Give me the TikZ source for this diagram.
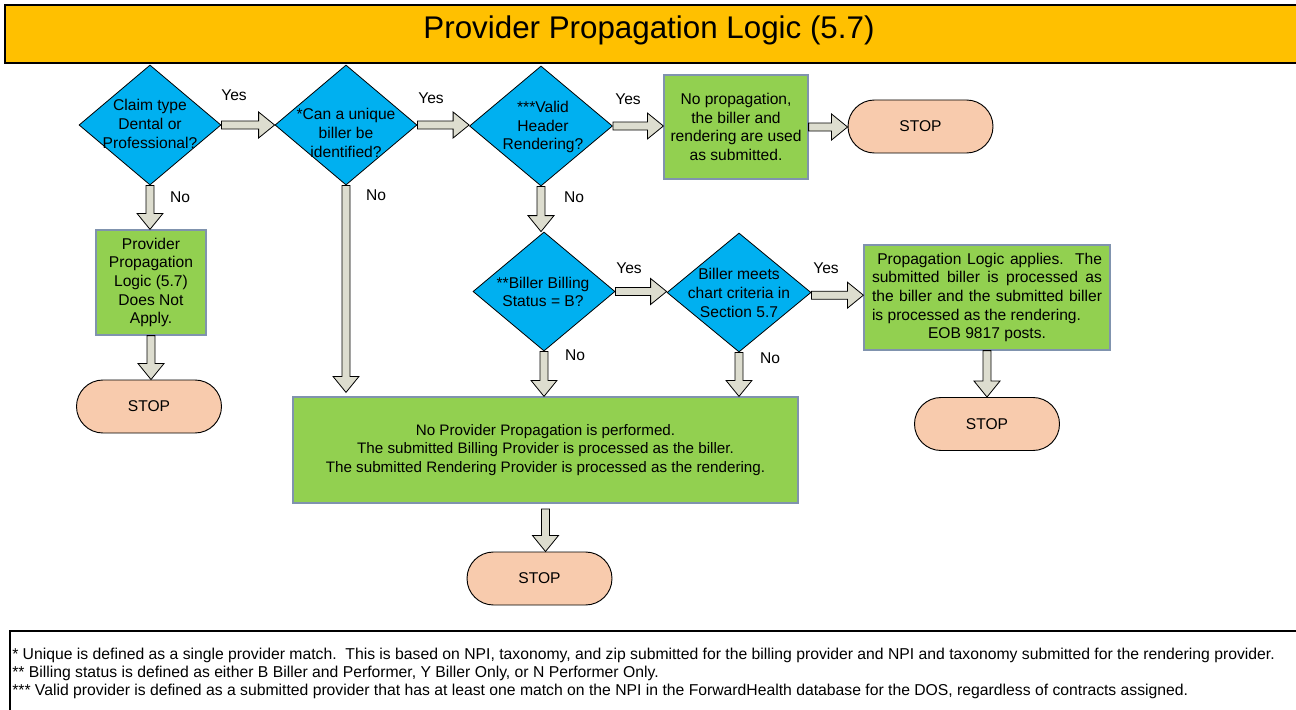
\documentclass[tikz,border=0pt]{standalone}
\usepackage{fontspec}
\setmainfont{Liberation Sans}
\usetikzlibrary{shapes.geometric,shapes.misc,calc}

\definecolor{titlegold}{HTML}{FFC000}
\definecolor{decblue}{HTML}{00B0F0}
\definecolor{procgreen}{HTML}{92D050}
\definecolor{procedge}{HTML}{8093AE}
\definecolor{stoppeach}{HTML}{F8CBAD}
\definecolor{arrowfill}{HTML}{DDDDCF}

\tikzset{
  body/.style={font=\fontsize{11.7}{14}\selectfont},
  decision/.style={shape=diamond, draw=black, line width=0.6pt, fill=decblue, inner sep=0pt},
  dtext/.style={body, align=center, inner sep=0pt},
  process/.style={draw=procedge, line width=0.9pt, fill=procgreen, body, align=center, inner sep=0pt},
  terminal/.style={rounded rectangle, draw=black, line width=0.7pt, fill=stoppeach, body,
    minimum width=108.75pt, minimum height=39.75pt, inner sep=0pt},
  answer/.style={body, inner sep=0pt},
  note/.style={font=\fontsize{11.8}{14}\selectfont, inner sep=0pt, anchor=west},
  % hollow block arrows, pointing right or down
  harrow/.style={draw=black, line width=0.6pt, fill=arrowfill,
    to path={let \p1=(\tikztostart), \p2=(\tikztotarget) in
      (\x1,\y1-3pt) -- (\x2-12pt,\y1-3pt) -- (\x2-12pt,\y1-9.75pt) -- (\x2,\y1)
      -- (\x2-12pt,\y1+9.75pt) -- (\x2-12pt,\y1+3pt) -- (\x1,\y1+3pt) -- cycle}},
  varrow/.style={draw=black, line width=0.6pt, fill=arrowfill,
    to path={let \p1=(\tikztostart), \p2=(\tikztotarget) in
      (\x1-3pt,\y1) -- (\x1-3pt,\y2+12pt) -- (\x1-9.75pt,\y2+12pt) -- (\x1,\y2)
      -- (\x1+9.75pt,\y2+12pt) -- (\x1+3pt,\y2+12pt) -- (\x1+3pt,\y1) -- cycle}},
}

\begin{document}
\begin{tikzpicture}[x=0.75pt, y=-0.75pt]
\useasboundingbox (0,0) rectangle (1296,710);
\clip (0,0) rectangle (1296,710);

% title bar
\path[fill=titlegold, draw=black, line width=1.3pt] (5,5) rectangle (1310,63);
\node[font=\fontsize{23.5}{26}\selectfont, inner sep=0pt] (title) at (649,30) {Provider Propagation Logic (5.7)};

% decisions
\node[decision, minimum width=106.5pt, minimum height=90pt] (d1) at (150,125) {};
\node[dtext] (d1t) at (150,124) {Claim type\\Dental or\\Professional?};
\node[decision, minimum width=106.5pt, minimum height=90pt] (d2) at (346,125) {};
\node[dtext] (d2t) at (346,133) {*Can a unique\\biller be\\identified?};
\node[decision, minimum width=107.25pt, minimum height=90pt] (d3) at (541,126) {};
\node[dtext] (d3t) at (543,127) {***Valid\\Header\\Rendering?};
\node[decision, minimum width=106.5pt, minimum height=89.25pt] (d4) at (544,291.5) {};
\node[dtext] (d4t) at (543,292) {**Biller Billing\\Status = B?};
\node[decision, minimum width=108pt, minimum height=89.25pt] (d5) at (739,292.5) {};
\node[dtext] (d5t) at (739,293) {Biller meets\\chart criteria in\\Section 5.7};

% process boxes
\node[process, minimum width=82.5pt, minimum height=78.75pt] (lbox) at (151,282.5)
  {Provider\\Propagation\\Logic (5.7)\\Does Not\\Apply.};
\node[process, minimum width=108pt, minimum height=78pt] (box1) at (736,127)
  {No propagation,\\the biller and\\rendering are used\\as submitted.};
\node[process, minimum width=184.5pt, minimum height=78.75pt, align=left] (rbox) at (987,297.5)
  {\makebox[172.5pt][s]{\hspace{4pt}Propagation Logic applies.\ \ The}\\
   \makebox[172.5pt][s]{submitted biller is processed as}\\
   \makebox[172.5pt][s]{the biller and the submitted biller}\\
   \makebox[172.5pt][l]{is processed as the rendering.}\\
   \makebox[172.5pt][c]{EOB 9817 posts.}};
\node[process, minimum width=378.75pt, minimum height=79.5pt, font=\fontsize{11.4}{14}\selectfont] (big) at (545.5,450)
  {No Provider Propagation is performed.\\
   The submitted Billing Provider is processed as the biller.\\
   The submitted Rendering Provider is processed as the rendering.};

% terminals
\node[terminal] (stop1) at (920.5,126.5) {STOP};
\node[terminal] (stop2) at (149,406.5) {STOP};
\node[terminal] (stop3) at (539.5,578.5) {STOP};
\node[terminal] (stop4) at (987,424) {STOP};

% connectors
\draw[harrow] (d1.east) to (d2.west);
\draw[varrow] (d1.south) to (lbox.north);
\draw[varrow] (lbox.south) to (stop2.north);
\draw[harrow] (d2.east) to (d3.west);
\draw[varrow] (d2.south) to ([yshift=3pt]d2.south |- big.north);
\draw[harrow] (d3.east) to (box1.west);
\draw[harrow] (box1.east) to (stop1.west);
\draw[varrow] (d3.south) to (d4.north);
\draw[harrow] (d4.east) to (d5.west);
\draw[harrow] ([yshift=-2pt]d5.east) to (rbox.west);
\draw[varrow] (d4.south) to (d4.south |- big.north);
\draw[varrow] (d5.south) to (d5.south |- big.north);
\draw[varrow] ([yshift=-4pt]big.south) to (stop3.north);
\draw[varrow] (rbox.south) to (stop4.north);

% branch labels
\node[answer] (y1) at (234,95) {Yes};
\node[answer] (n1) at (180,197) {No};
\node[answer] (y2) at (431,98) {Yes};
\node[answer] (n2) at (376,195) {No};
\node[answer] (y3) at (628,99) {Yes};
\node[answer] (n3) at (574,197) {No};
\node[answer] (y4) at (629,268) {Yes};
\node[answer] (y5) at (826,268) {Yes};
\node[answer] (n4) at (575,355) {No};
\node[answer] (n5) at (770,358) {No};

% footnotes
\draw[line width=0.8pt] (10,720) -- (10,631) -- (1310,631);
\node[note] (fn1) at (12,655) {* Unique is defined as a single provider match.\ \ This is based on NPI, taxonomy, and zip submitted for the billing provider and NPI and taxonomy submitted for the rendering provider.};
\node[note] (fn2) at (12,673) {** Billing status is defined as either B Biller and Performer, Y Biller Only, or N Performer Only.};
\node[note] (fn3) at (12,691) {*** Valid provider is defined as a submitted provider that has at least one match on the NPI in the ForwardHealth database for the DOS, regardless of contracts assigned.};
\end{tikzpicture}
\end{document}
